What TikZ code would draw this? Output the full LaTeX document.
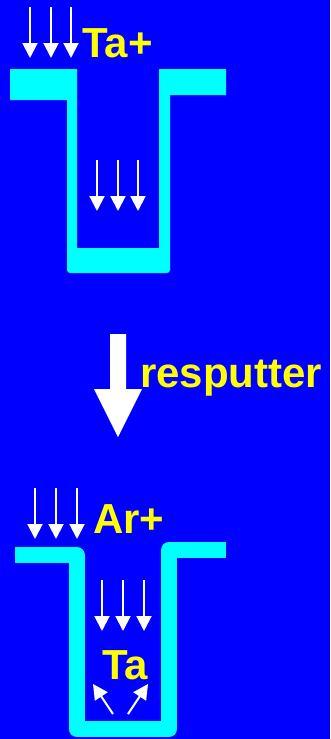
\documentclass[tikz,border=0pt]{standalone}
\usepackage{fontspec}
\setmainfont{Liberation Sans}
\usetikzlibrary{arrows.meta}
\definecolor{bg}{RGB}{0,0,255}
\definecolor{film}{RGB}{0,255,255}
\definecolor{lbl}{RGB}{255,255,0}
\begin{document}
\begin{tikzpicture}[x=1pt,y=-1pt,
    ion/.style={white, line width=2pt, -{Triangle[width=15pt,length=15pt]}},
    species/.style={text=lbl, inner sep=0pt, anchor=base west,
      font=\fontsize{42}{42}\selectfont\bfseries}]
    \fill [bg] (0,0) rectangle (330,739);
    % before: Ta+ deposition into the trench
    \fill [film] (10,69) -- (77,69) -- (77,248) -- (159,248) -- (159,69)
      -- (226,69) -- (226,95) -- (170,95) [rounded corners=3pt] -- (170,273)
      -- (67,273) [sharp corners] -- (67,100) -- (10,100) -- cycle;
    \foreach \x in {30,51,71}
      \draw [ion] (\x,7) -- (\x,58);
    \foreach \x in {97,118,138}
      \draw [ion] (\x,160) -- (\x,211);
    \node [species] (taion) at (82,57) {Ta+};
    % resputter step
    \fill [white] (110,334) -- (126,334) -- (126,389) -- (142,389)
      -- (118,437) -- (94,389) -- (110,389) -- cycle;
    \node [species] (resp) at (140,387) {resputter};
    % after: Ar+ resputters Ta from the bottom
    \draw [film, line width=16pt, line join=round] (15,555) -- (76.5,555)
      -- (76.5,729) -- (169,729) -- (169,550) -- (226,550);
    \foreach \x in {35,56,77}
      \draw [ion] (\x,488) -- (\x,539);
    \foreach \x in {102,123,144}
      \draw [ion] (\x,580) -- (\x,631);
    \node [species] (arion) at (93,533) {Ar+};
    \node [species] (ta) at (102,679) {Ta};
    \draw [ion] (113,714) -- (93,684);
    \draw [ion] (128,714) -- (148,684);
\end{tikzpicture}
\end{document}
